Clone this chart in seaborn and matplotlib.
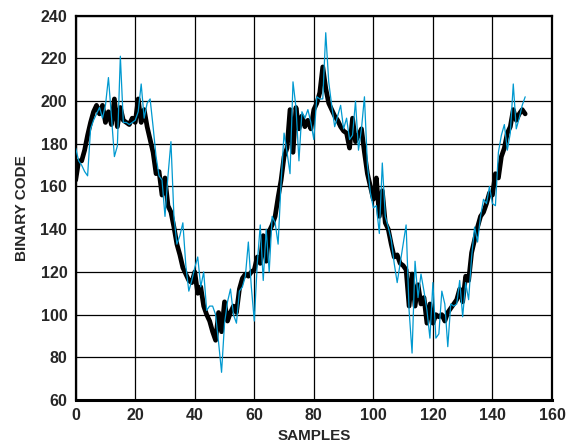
import numpy as np
import pandas as pd
import matplotlib
matplotlib.use('Agg')
import matplotlib.pyplot as plt
import seaborn as sns

# raw ADC output (thin blue) and filtered output (thick black)
raw_code = [178, 172, 170, 167, 165, 187, 191, 194, 197, 192,
            198, 211, 193, 174, 179, 221, 190, 190, 189, 190,
            191, 195, 208, 192, 199, 201, 188, 174, 165, 163,
            146, 165, 181, 146, 133, 137, 143, 123, 111, 116,
            122, 127, 113, 120, 102, 104, 104, 100, 87, 73,
            96, 106, 112, 100, 96, 111, 113, 118, 134, 113,
            97, 124, 142, 116, 140, 120, 146, 143, 133, 162,
            185, 176, 166, 209, 197, 172, 195, 192, 196, 190,
            182, 202, 201, 201, 232, 209, 198, 188, 193, 198,
            187, 192, 182, 184, 200, 177, 187, 202, 170, 157,
            150, 151, 138, 171, 146, 141, 135, 124, 115, 124,
            133, 142, 102, 82, 125, 108, 119, 111, 102, 89,
            115, 89, 91, 111, 105, 85, 105, 104, 105, 116,
            99, 115, 107, 127, 141, 134, 146, 154, 152, 160,
            152, 151, 176, 184, 189, 177, 185, 208, 187, 192,
            198, 202]

filtered_code = [163, 172, 172, 177, 184, 190, 195, 198, 194, 198,
                 190, 195, 189, 201, 188, 197, 191, 190, 189, 192,
                 190, 201, 190, 196, 188, 182, 176, 166, 167, 156,
                 164, 151, 148, 141, 133, 128, 122, 119, 116, 115,
                 120, 110, 113, 104, 100, 97, 92, 88, 101, 92,
                 106, 97, 101, 104, 101, 112, 117, 119, 118, 120,
                 121, 127, 124, 137, 125, 139, 142, 146, 155, 163,
                 174, 178, 196, 176, 197, 187, 193, 188, 191, 187,
                 196, 199, 204, 216, 206, 199, 196, 193, 191, 188,
                 186, 185, 178, 192, 181, 184, 187, 176, 166, 160,
                 154, 164, 146, 158, 143, 140, 133, 127, 128, 124,
                 123, 121, 104, 119, 104, 114, 105, 108, 96, 105,
                 96, 100, 99, 100, 97, 101, 103, 105, 107, 112,
                 106, 118, 116, 129, 135, 141, 146, 148, 152, 157,
                 156, 166, 164, 174, 178, 185, 188, 196, 191, 194,
                 196, 194]

samples = list(range(len(raw_code)))

df = pd.DataFrame({'sample': samples, 'raw': raw_code, 'filtered': filtered_code})

sns.set_style('white')
plt.rcParams['font.family'] = ['Liberation Sans', 'DejaVu Sans']

fig = plt.figure(figsize=(5.67, 4.47), dpi=100)
ax = fig.add_axes([0.1335, 0.105, 0.84, 0.86])

sns.lineplot(data=df, x='sample', y='filtered', color='black', linewidth=3.4,
             ax=ax, zorder=2, solid_joinstyle='round')
sns.lineplot(data=df, x='sample', y='raw', color='#0099D0', linewidth=0.9, ax=ax, zorder=3)

ax.set_xlim(0, 160)
ax.set_ylim(60, 240)
ax.set_xticks(range(0, 161, 20))
ax.set_yticks(range(60, 241, 20))
ax.grid(True, color='black', linewidth=0.9)
ax.set_axisbelow(True)
for s in ax.spines.values():
    s.set_color('black')
    s.set_linewidth(1.6)
ax.spines['bottom'].set_linewidth(2.2)

ax.tick_params(length=0, pad=6, labelsize=11.5)
for lab in ax.get_xticklabels() + ax.get_yticklabels():
    lab.set_fontweight('bold')

ax.set_xlabel('SAMPLES', fontsize=11, fontweight='bold', labelpad=4)
ax.set_ylabel('BINARY CODE', fontsize=11, fontweight='bold', labelpad=8)

fig.savefig('out.png', dpi=100)
